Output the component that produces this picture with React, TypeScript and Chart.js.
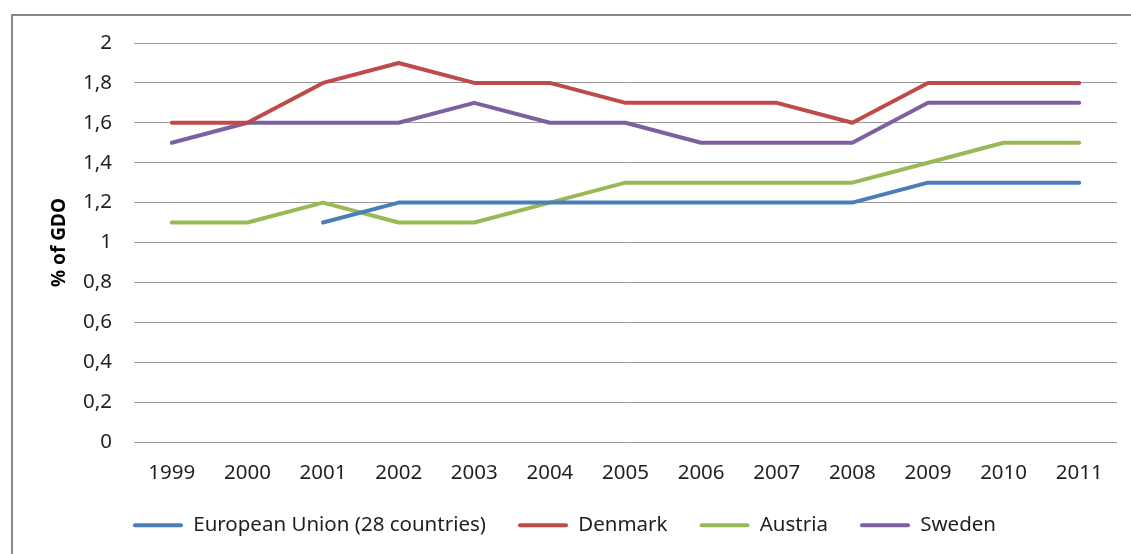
import React, { useEffect, useRef } from "react";
import { Chart, registerables } from "chart.js";

Chart.register(...registerables);

const years = ["1999", "2000", "2001", "2002", "2003", "2004", "2005", "2006", "2007", "2008", "2009", "2010", "2011"];
const euValues = [null, null, 1.1, 1.2, 1.2, 1.2, 1.2, 1.2, 1.2, 1.2, 1.3, 1.3, 1.3];
const denmarkValues = [1.6, 1.6, 1.8, 1.9, 1.8, 1.8, 1.7, 1.7, 1.7, 1.6, 1.8, 1.8, 1.8];
const austriaValues = [1.1, 1.1, 1.2, 1.1, 1.1, 1.2, 1.3, 1.3, 1.3, 1.3, 1.4, 1.5, 1.5];
const swedenValues = [1.5, 1.6, 1.6, 1.6, 1.7, 1.6, 1.6, 1.5, 1.5, 1.5, 1.7, 1.7, 1.7];
const seriesNames = ["European Union (28 countries)", "Denmark", "Austria", "Sweden"];
const seriesColors = ["#4a7ebb", "#be4b48", "#98b954", "#7d60a0"];
const yAxisTitle = "% of GDO";

const FONT = "'Noto Sans', 'Open Sans', sans-serif";
const FONT_SIZE = 20.5;

const framePlugin = {
  id: "frame",
  afterInit(chart: any) {
    const legend = chart.legend;
    if (legend && !legend.__patched) {
      const orig = legend.fit.bind(legend);
      legend.fit = function () {
        orig();
        this.height = 71;
      };
      legend.__patched = true;
    }
  },
  beforeDraw(chart: any) {
    const { ctx, width, height } = chart;
    ctx.save();
    ctx.fillStyle = "#ffffff";
    ctx.fillRect(0, 0, width, height);
    ctx.strokeStyle = "#898989";
    ctx.lineWidth = 2;
    ctx.beginPath();
    ctx.moveTo(12, height + 2);
    ctx.lineTo(12, 15);
    ctx.lineTo(width + 2, 15);
    ctx.stroke();
    ctx.restore();
  },
};

export default function App() {
  const ref = useRef<HTMLCanvasElement>(null);
  useEffect(() => {
    if (!ref.current) return;
    const all = [euValues, denmarkValues, austriaValues, swedenValues];
    const chart = new Chart(ref.current, {
      type: "line",
      data: {
        labels: years,
        datasets: all.map((vals, i) => ({
          label: seriesNames[i],
          data: vals as any,
          borderColor: seriesColors[i],
          backgroundColor: seriesColors[i],
          borderWidth: 4,
          pointRadius: 0,
          pointHoverRadius: 0,
          tension: 0,
          spanGaps: false,
          borderCapStyle: "round",
          borderJoinStyle: "round",
        })),
      },
      options: {
        responsive: false,
        animation: false,
        maintainAspectRatio: false,
        layout: { padding: { left: 12, right: 14, top: 43, bottom: 0 } },
        plugins: {
          tooltip: { enabled: false },
          legend: {
            position: "bottom",
            labels: {
              color: "#1f1f1f",
              font: { family: FONT, size: FONT_SIZE },
              boxWidth: 50,
              boxHeight: 4,
              padding: 32,
              useBorderRadius: true,
              borderRadius: 2,
              generateLabels: (c: any) => {
                const items = Chart.defaults.plugins.legend.labels.generateLabels(c);
                return items.map((it: any) => ({ ...it, lineWidth: 0 }));
              },
            },
          },
        },
        scales: {
          x: {
            offset: true,
            afterFit: (scale: any) => {
              scale.height = 41;
            },
            grid: { display: false, drawTicks: false },
            border: { display: false },
            ticks: { color: "#1f1f1f", font: { family: FONT, size: FONT_SIZE }, padding: 19, maxRotation: 0, autoSkip: false },
          },
          y: {
            min: 0,
            max: 2,
            afterFit: (scale: any) => {
              scale.width = 122;
            },
            grid: { color: "#9a9a9a", lineWidth: 1, drawTicks: false },
            border: { display: false },
            title: {
              display: true,
              text: yAxisTitle,
              color: "#000000",
              font: { family: FONT, size: 19, weight: "bold" },
              padding: { top: 36, bottom: 0 },
            },
            ticks: {
              stepSize: 0.2,
              color: "#1f1f1f",
              font: { family: FONT, size: FONT_SIZE },
              padding: 22,
              callback: (v: any) => String(Math.round(Number(v) * 10) / 10).replace(".", ","),
            },
          },
        },
      },
      plugins: [framePlugin],
    });
    return () => chart.destroy();
  }, []);
  return (
    <div style={{ position: "absolute", left: 0, top: 0, width: 1131, height: 554 }}>
      <canvas ref={ref} width={1131} height={554} style={{ display: "block" }} />
    </div>
  );
}
